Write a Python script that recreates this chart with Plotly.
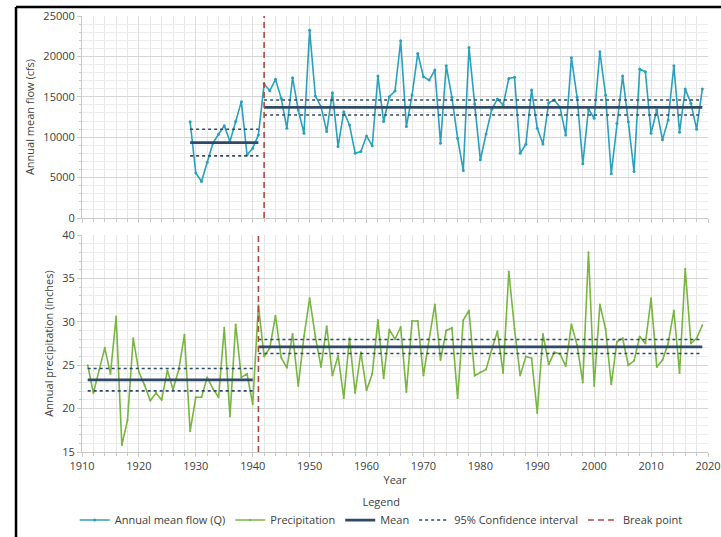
import plotly.graph_objects as go

# ---------------- data ----------------
flow_years = list(range(1929, 2020))
flow_values = [
    11900, 5560, 4520, 6910, 9260, 10370, 11430, 9460, 11930, 14400,   # 1929-1938
    7810, 8640, 10280, 16580, 15750, 17160, 14810, 11110, 17360, 13370,  # 1939-1948
    10490, 23250, 15100, 13780, 10690, 15510, 8840, 13160, 11520, 8020,  # 1949-1958
    8220, 10160, 8930, 17570, 11930, 15010, 15720, 21930, 11310, 15220,  # 1959-1968
    20370, 17480, 17070, 18310, 9260, 18850, 14940, 9880, 5880, 21110,   # 1969-1978
    14100, 7200, 10400, 13450, 14730, 13990, 17280, 17410, 8020, 9130,   # 1979-1988
    15840, 11110, 9170, 14270, 14600, 13700, 10280, 19830, 14940, 6700,  # 1989-1998
    13490, 12350, 20570, 15220, 5470, 11730, 17570, 11900, 5750, 18430,  # 1999-2008
    18100, 10490, 13370, 9670, 12140, 18840, 10620, 15960, 14200, 10990, # 2009-2018
    15960,                                                               # 2019
]

precip_years = list(range(1911, 2020))
precip_values = [
    25.0, 21.8, 24.4, 27.0, 24.0, 30.6, 15.8, 18.7, 28.1, 24.2,   # 1911-1920
    22.7, 20.9, 21.8, 21.0, 24.4, 22.2, 24.5, 28.5, 17.4, 21.3,   # 1921-1930
    21.3, 23.6, 22.3, 21.3, 29.3, 19.1, 29.7, 23.6, 24.0, 20.5,   # 1931-1940
    31.9, 26.0, 27.0, 30.7, 25.9, 24.7, 28.6, 22.6, 28.3, 32.7,   # 1941-1950
    28.3, 24.8, 29.5, 23.8, 26.1, 21.2, 28.1, 21.8, 26.5, 22.1,   # 1951-1960
    24.0, 30.2, 23.5, 29.1, 28.0, 29.4, 21.9, 30.1, 30.1, 23.8,   # 1961-1970
    28.0, 32.0, 25.6, 29.0, 29.3, 21.2, 30.2, 31.3, 23.8, 24.2,   # 1971-1980
    24.5, 26.8, 28.9, 24.1, 35.8, 29.2, 23.8, 26.0, 25.8, 19.5,   # 1981-1990
    28.6, 25.1, 26.5, 26.3, 24.9, 29.7, 27.3, 23.0, 38.0, 22.6,   # 1991-2000
    32.0, 29.2, 22.8, 27.7, 28.1, 25.0, 25.5, 28.3, 27.5, 32.7,   # 2001-2010
    24.8, 25.6, 27.5, 31.3, 24.1, 36.1, 27.5, 28.1, 29.6,         # 2011-2019
]

# break points and segment statistics
flow_break = 1942
flow_seg_years = [1929, 1941, None, 1942, 2019]
flow_mean = [9340, 9340, None, 13700, 13700]
flow_ci_upper = [10990, 10990, None, 14600, 14600]
flow_ci_lower = [7690, 7690, None, 12750, 12750]

precip_break = 1941
precip_seg_years = [1911, 1940, None, 1941, 2019]
precip_mean = [23.3, 23.3, None, 27.12, 27.12]
precip_ci_upper = [24.62, 24.62, None, 27.96, 27.96]
precip_ci_lower = [22.04, 22.04, None, 26.35, 26.35]

flow_range = [0, 25000]
precip_range = [15, 40]

# ---------------- styles ----------------
FLOW_C = "#2aa0bd"
PREC_C = "#78b541"
MEAN_C = "#2f4a66"
BREAK_C = "#b0473f"
FONT = "Open Sans"
TXT = "#404040"

fig = go.Figure()

# ---- top panel: flow ----
fig.add_trace(go.Scatter(x=flow_years, y=flow_values, mode="lines+markers",
                         name="Annual mean flow (Q)", line=dict(color=FLOW_C, width=1.6),
                         marker=dict(size=3, color=FLOW_C), xaxis="x", yaxis="y",
                         legendrank=1))
fig.add_trace(go.Scatter(x=flow_seg_years, y=flow_mean, mode="lines", name="Mean",
                         line=dict(color=MEAN_C, width=2.8), xaxis="x", yaxis="y",
                         legendgroup="mean", showlegend=False))
for ci in (flow_ci_upper, flow_ci_lower):
    fig.add_trace(go.Scatter(x=flow_seg_years, y=ci, mode="lines",
                             name="95% Confidence interval",
                             line=dict(color=MEAN_C, width=1.6, dash="dot"),
                             xaxis="x", yaxis="y", legendgroup="ci", showlegend=False))
fig.add_trace(go.Scatter(x=[flow_break, flow_break], y=flow_range, mode="lines",
                         name="Break point", line=dict(color=BREAK_C, width=1.6, dash="6px,4px"),
                         xaxis="x", yaxis="y", legendgroup="break", showlegend=False))

# ---- bottom panel: precipitation ----
fig.add_trace(go.Scatter(x=precip_years, y=precip_values, mode="lines+markers",
                         name="Precipitation", line=dict(color=PREC_C, width=1.6),
                         marker=dict(size=2, color=PREC_C), xaxis="x2", yaxis="y2",
                         legendrank=2))
fig.add_trace(go.Scatter(x=precip_seg_years, y=precip_mean, mode="lines", name="Mean",
                         line=dict(color=MEAN_C, width=2.8), xaxis="x2", yaxis="y2",
                         legendgroup="mean", legendrank=3))
fig.add_trace(go.Scatter(x=precip_seg_years, y=precip_ci_upper, mode="lines",
                         name="95% Confidence interval",
                         line=dict(color=MEAN_C, width=1.6, dash="dot"),
                         xaxis="x2", yaxis="y2", legendgroup="ci", legendrank=4))
fig.add_trace(go.Scatter(x=precip_seg_years, y=precip_ci_lower, mode="lines",
                         name="95% Confidence interval",
                         line=dict(color=MEAN_C, width=1.6, dash="dot"),
                         xaxis="x2", yaxis="y2", legendgroup="ci", showlegend=False))
fig.add_trace(go.Scatter(x=[precip_break, precip_break], y=precip_range, mode="lines",
                         name="Break point", line=dict(color=BREAK_C, width=1.6, dash="6px,4px"),
                         xaxis="x2", yaxis="y2", legendgroup="break", legendrank=5))

common_x = dict(range=[1910, 2020], dtick=10, tick0=1910, automargin=False,
                showgrid=True, gridcolor="#dedede", gridwidth=1,
                showline=True, linecolor="#c8c8c8", linewidth=1,
                ticks="outside", ticklen=4, tickcolor="#c8c8c8",
                minor=dict(dtick=2, showgrid=True, gridcolor="#e6e6e6",
                           ticks="outside", ticklen=3, tickcolor="#c8c8c8"),
                tickfont=dict(size=11, color=TXT, family=FONT), zeroline=False)

common_y = dict(showgrid=True, gridcolor="#d4d4d4", gridwidth=1, automargin=False,
                showline=True, linecolor="#c8c8c8", linewidth=1,
                ticks="outside", ticklen=4, tickcolor="#c8c8c8", tickformat="d",
                tickfont=dict(size=11, color=TXT, family=FONT), zeroline=False)

fig.update_layout(
    width=721, height=537,
    margin=dict(l=82, r=13, t=16, b=85, autoexpand=False),
    paper_bgcolor="white", plot_bgcolor="white",
    font=dict(family=FONT, size=11, color=TXT),
    xaxis=dict(**common_x, anchor="y", showticklabels=False, matches="x2"),
    xaxis2=dict(**common_x, anchor="y2",
                title=dict(text="Year", standoff=4, font=dict(size=11, color=TXT))),
    yaxis=dict(**common_y, domain=[0.5367, 1.0], range=flow_range, dtick=5000,
               minor=dict(dtick=1000, showgrid=True, gridcolor="#ececec",
                          ticks="outside", ticklen=2, tickcolor="#c8c8c8"),
               title=dict(text="Annual mean flow (cfs)", standoff=6,
                          font=dict(size=11, color=TXT))),
    yaxis2=dict(**common_y, domain=[0.0, 0.4977], range=precip_range, dtick=5,
                minor=dict(dtick=1, showgrid=True, gridcolor="#ececec",
                           ticks="outside", ticklen=2, tickcolor="#c8c8c8"),
                title=dict(text="Annual precipitation (inches)", standoff=6,
                           font=dict(size=11, color=TXT))),
    showlegend=True,
    legend=dict(orientation="h", x=0.478, xanchor="center", y=-0.09, yanchor="top",
                font=dict(size=11, color=TXT, family=FONT), itemwidth=30,
                traceorder="normal",
                title=dict(text="Legend", side="top center",
                           font=dict(size=11, color=TXT, family=FONT)),
                bgcolor="rgba(0,0,0,0)"),
    shapes=[
        dict(type="line", xref="paper", yref="paper", x0=-0.1054, x1=1.03,
             y0=1.0206, y1=1.0206, line=dict(color="black", width=2.5)),
        dict(type="line", xref="paper", yref="paper", x0=-0.1054, x1=-0.1054,
             y0=1.0206, y1=-0.2, line=dict(color="black", width=2.5)),
    ],
)

fig.write_html("out.html", config={"displayModeBar": False},
               post_script="document.body.style.margin='0px';")
